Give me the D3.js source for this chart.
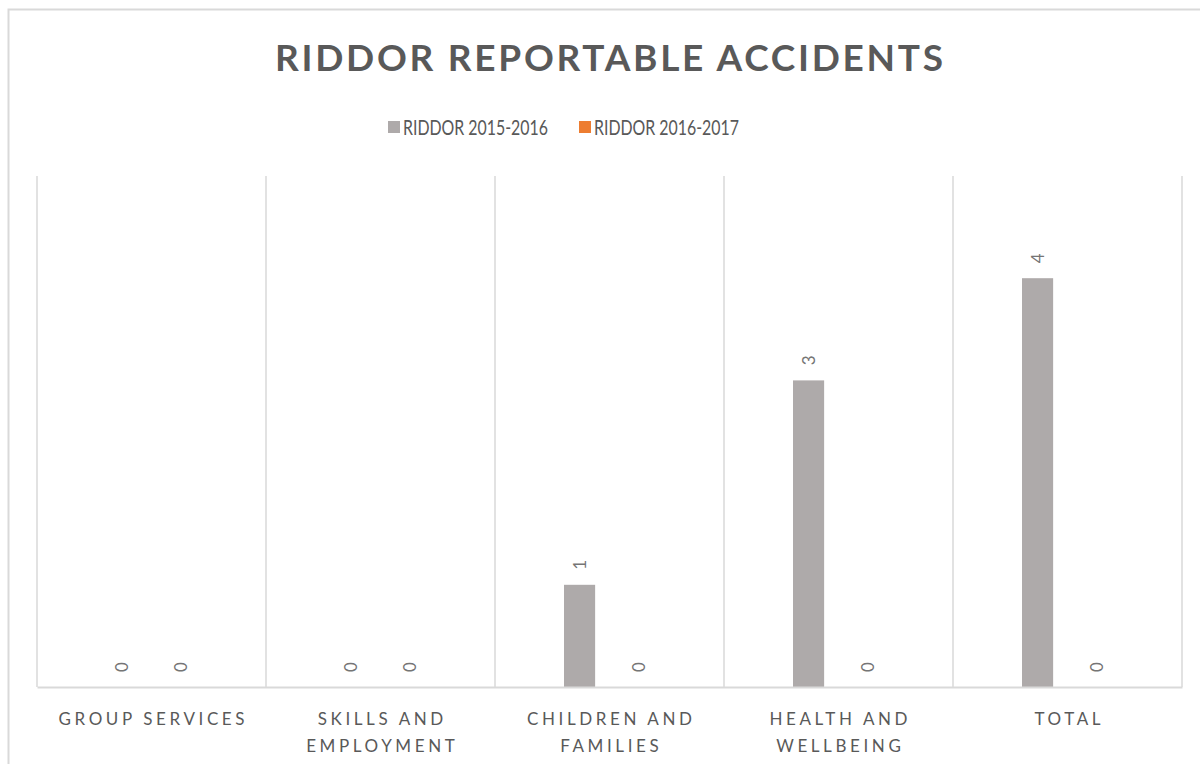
<!DOCTYPE html>
<html>
<head>
<meta charset="utf-8">
<script src="https://cdn.jsdelivr.net/npm/d3@7"></script>
<style>
  html, body { margin: 0; padding: 0; background: #ffffff; }
  svg { display: block; }
  text { font-family: Lato, "Open Sans", sans-serif; fill: #595959; }
</style>
</head>
<body>
<svg id="chart" width="1200" height="764"></svg>
<script>
// Categories, series and values
const categories = [
  ["GROUP SERVICES"],
  ["SKILLS AND", "EMPLOYMENT"],
  ["CHILDREN AND", "FAMILIES"],
  ["HEALTH AND", "WELLBEING"],
  ["TOTAL"]
];
const categoryKeys = ["Group Services", "Skills and Employment", "Children and Families", "Health and Wellbeing", "Total"];
const seriesNames = ["RIDDOR 2015-2016", "RIDDOR 2016-2017"];
const riddor2015 = [0, 0, 1, 3, 4];
const riddor2016 = [0, 0, 0, 0, 0];
const seriesValues = [riddor2015, riddor2016];
const seriesColors = ["#AEAAAA", "#ED7D31"];
const titleText = "RIDDOR REPORTABLE ACCIDENTS";

const svg = d3.select("#chart");
const plot = { left: 37, right: 1182, top: 176, bottom: 687 };

// Outer chart frame (only left and top edges fall inside the view)
svg.append("rect")
  .attr("x", 8.5).attr("y", 9.5)
  .attr("width", 1300).attr("height", 900)
  .attr("fill", "#ffffff")
  .attr("stroke", "#D9D9D9").attr("stroke-width", 2);

// Scales
const x0 = d3.scaleBand().domain(categoryKeys).range([plot.left, plot.right]).padding(0);
const half = 45.5;
const x1 = d3.scaleBand().domain(seriesNames)
  .range([x0.bandwidth() / 2 - half, x0.bandwidth() / 2 + half])
  .paddingInner(0.48).paddingOuter(0);
const y = d3.scaleLinear().domain([0, 5]).range([plot.bottom, plot.top]);

// Vertical category separators
const boundaries = categoryKeys.map(k => x0(k)).concat([plot.right]);
svg.append("g").selectAll("line").data(boundaries).join("line")
  .attr("x1", d => d).attr("x2", d => d)
  .attr("y1", plot.top).attr("y2", plot.bottom)
  .attr("stroke", "#D9D9D9").attr("stroke-width", 1.5);

// Bars
const rows = [];
categoryKeys.forEach((k, i) => {
  seriesNames.forEach((s, j) => {
    rows.push({ cat: k, series: s, value: seriesValues[j][i], color: seriesColors[j] });
  });
});

svg.append("g").selectAll("rect").data(rows).join("rect")
  .attr("x", d => x0(d.cat) + x1(d.series))
  .attr("y", d => y(d.value))
  .attr("width", x1.bandwidth())
  .attr("height", d => y(0) - y(d.value))
  .attr("fill", d => d.color);

// Baseline axis
const xAxis = d3.axisBottom(x0).tickSize(0).tickFormat("");
const axisG = svg.append("g").attr("transform", `translate(0,${plot.bottom})`).call(xAxis);
axisG.select(".domain").attr("stroke", "#D9D9D9").attr("stroke-width", 2);

// Rotated value labels
svg.append("g").selectAll("text").data(rows).join("text")
  .attr("transform", d => `translate(${x0(d.cat) + x1(d.series) + x1.bandwidth() / 2},${y(d.value) - 20}) rotate(-90)`)
  .attr("text-anchor", "middle")
  .attr("dy", "0.35em")
  .style("font-size", "17px")
  .style("fill", "#757575")
  .text(d => d.value);

// Category labels
const catG = svg.append("g").selectAll("text").data(categoryKeys).join("text")
  .attr("x", d => x0(d) + x0.bandwidth() / 2)
  .attr("y", 725)
  .attr("text-anchor", "middle")
  .style("font-size", "17px")
  .style("letter-spacing", "3.6px");
catG.each(function(d, i) {
  const t = d3.select(this);
  categories[i].forEach((line, li) => {
    t.append("tspan")
      .attr("x", x0(d) + x0.bandwidth() / 2 + 1.8)
      .attr("dy", li === 0 ? 0 : 27)
      .text(line);
  });
});

// Title
svg.append("text")
  .attr("x", 609).attr("y", 71)
  .attr("text-anchor", "middle")
  .style("font-size", "37px")
  .style("font-weight", "bold")
  .attr("textLength", 668)
  .attr("lengthAdjust", "spacing")
  .text(titleText);

// Legend
const legendItems = [
  { name: seriesNames[0], color: seriesColors[0], x: 388 },
  { name: seriesNames[1], color: seriesColors[1], x: 579 }
];
const lg = svg.append("g").selectAll("g").data(legendItems).join("g")
  .attr("transform", d => `translate(${d.x},0)`);
lg.append("rect").attr("x", 0).attr("y", 121).attr("width", 12).attr("height", 12)
  .attr("fill", d => d.color);
lg.append("text").attr("x", 15).attr("y", 135)
  .style("font-size", "21px")
  .attr("textLength", 145)
  .attr("lengthAdjust", "spacingAndGlyphs")
  .text(d => d.name);
</script>
</body>
</html>
